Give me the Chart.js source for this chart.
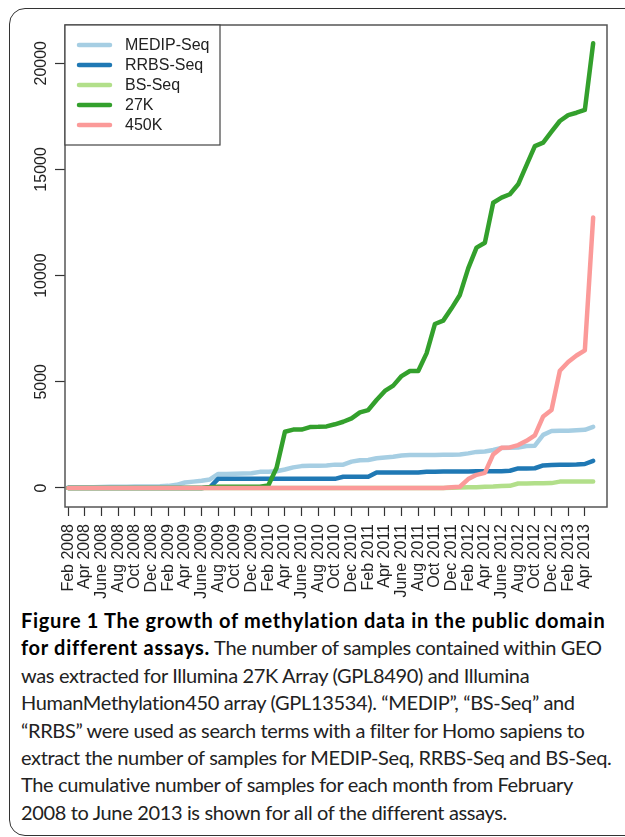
<!DOCTYPE html>
<html>
<head>
<meta charset="utf-8">
<script src="https://cdn.jsdelivr.net/npm/chart.js@4"></script>
<style>
  body { margin: 0; background: #fff; }
  #frame {
    position: absolute; left: 9px; top: 8px; width: 700px; height: 826px;
    border: 1.5px solid #333; border-radius: 16px 0 0 16px;
  }
  #wrap { position: absolute; left: 0; top: 0; width: 625px; height: 600px; }
  #caption {
    position: absolute; left: 21px; top: 607px; white-space: nowrap;
    font-family: Lato, "Open Sans", sans-serif; font-size: 20px; line-height: 27.4px; color: #222;
    letter-spacing: -0.35px;
  }
  #caption b { color: #000; letter-spacing: 0.7px; }
</style>
</head>
<body>
<div id="frame"></div>
<div id="wrap"><canvas id="myChart" width="625" height="600"></canvas></div>
<div id="caption"><b>Figure 1 The growth of methylation data in the public domain<br>for different assays.</b> The number of samples contained within GEO<br>was extracted for Illumina 27K Array (GPL8490) and Illumina<br>HumanMethylation450 array (GPL13534). “MEDIP”, “BS-Seq” and<br>“RRBS” were used as search terms with a filter for Homo sapiens to<br>extract the number of samples for MEDIP-Seq, RRBS-Seq and BS-Seq.<br>The cumulative number of samples for each month from February<br>2008 to June 2013 is shown for all of the different assays.</div>
<script>
// monthly labels, Feb 2008 .. May 2013
const monthNames = ['Jan', 'Feb', 'Mar', 'Apr', 'May', 'June', 'July', 'Aug', 'Sep', 'Oct', 'Nov', 'Dec'];
const months = [];
for (let i = 0; i < 64; i++) {
  months.push(monthNames[(i + 1) % 12] + ' ' + (2008 + Math.floor((i + 1) / 12)));
}
const xTicks = [0, 2, 4, 6, 8, 10, 12, 14, 16, 18, 20, 22, 24, 26, 28, 30, 32, 34, 36, 38, 40, 42, 44, 46, 48, 50, 52, 54, 56, 58, 60, 62];
const yTicks = [0, 5000, 10000, 15000, 20000];

const medip = [30, 30, 40, 40, 50, 60, 60, 60, 70, 70, 70, 80, 100, 150, 260, 300, 340, 400, 660, 660, 670, 680, 690, 760,
  770, 790, 870, 970, 1030, 1050, 1050, 1060, 1100, 1100, 1240, 1310, 1320, 1400, 1440, 1470, 1530, 1550, 1550, 1550,
  1550, 1560, 1570, 1580, 1630, 1700, 1720, 1790, 1880, 1900, 1910, 1980, 1990, 2500, 2680, 2700, 2700, 2720, 2740, 2880];
const rrbs = [0, 0, 0, 0, 0, 0, 0, 0, 0, 0, 0, 0, 0, 0, 0, 0, 0, 30, 440, 440, 440, 440, 440, 440,
  440, 440, 440, 430, 430, 430, 430, 430, 430, 530, 530, 530, 530, 730, 730, 730, 730, 730, 730, 770,
  770, 780, 780, 780, 780, 790, 790, 790, 790, 810, 920, 920, 930, 1060, 1080, 1090, 1100, 1110, 1130, 1280];
const bsSeq = [0, 0, 0, 0, 0, 0, 0, 0, 0, 0, 0, 0, 0, 0, 0, 0, 0, 0, 0, 0, 0, 0, 0, 0,
  0, 0, 0, 0, 0, 0, 0, 0, 0, 0, 0, 0, 0, 0, 0, 0, 0, 0, 0, 0,
  0, 0, 10, 20, 30, 40, 60, 70, 90, 100, 210, 215, 220, 225, 230, 300, 300, 305, 305, 305];
const k27 = [0, 0, 0, 0, 0, 0, 0, 0, 0, 0, 0, 0, 0, 0, 0, 0, 0, 30, 60, 60, 60, 60, 60, 60,
  120, 950, 2650, 2750, 2750, 2870, 2880, 2900, 3000, 3120, 3280, 3560, 3670, 4140, 4570, 4820, 5270, 5510, 5510, 6340,
  7720, 7880, 8460, 9090, 10340, 11320, 11550, 13430, 13670, 13830, 14300, 15200, 16100, 16260, 16780, 17280, 17560, 17670, 17800, 20940];
const k450 = [0, 0, 0, 0, 0, 0, 0, 0, 0, 0, 0, 0, 0, 0, 0, 0, 0, 0, 0, 0, 0, 0, 0, 0,
  0, 0, 0, 0, 0, 0, 0, 0, 0, 0, 0, 0, 0, 0, 0, 0, 0, 0, 0, 0,
  0, 0, 30, 60, 420, 620, 710, 1580, 1900, 1910, 2020, 2220, 2480, 3370, 3670, 5520, 5930, 6240, 6480, 12740];

const seriesNames = ['MEDIP-Seq', 'RRBS-Seq', 'BS-Seq', '27K', '450K'];
const seriesColors = ['#a6cee3', '#1f78b4', '#b2df8a', '#33a02c', '#fb9a99'];
const seriesData = [medip, rrbs, bsSeq, k27, k450];

const FONT = '"Liberation Sans", Arial, sans-serif';

// box, rotated y labels and legend the way base R draws them
const rStyle = {
  id: 'rStyle',
  afterDraw(chart) {
    const { ctx, chartArea: a, scales } = chart;
    ctx.save();
    ctx.strokeStyle = '#555';
    ctx.lineWidth = 1.5;
    ctx.strokeRect(a.left, a.top, a.right - a.left, a.bottom - a.top);

    ctx.fillStyle = '#222';
    ctx.font = '16px ' + FONT;
    ctx.textAlign = 'center';
    ctx.textBaseline = 'middle';
    yTicks.forEach(v => {
      const y = scales.y.getPixelForValue(v);
      ctx.save();
      ctx.translate(a.left - 23, y);
      ctx.rotate(-Math.PI / 2);
      ctx.fillText(String(v), 0, 0);
      ctx.restore();
    });

    // legend
    const lx = a.left, ly = a.top;
    ctx.fillStyle = '#fff';
    ctx.fillRect(lx, ly, 155, 120);
    ctx.strokeStyle = '#444';
    ctx.lineWidth = 1.2;
    ctx.strokeRect(lx, ly, 155, 120);
    ctx.textAlign = 'left';
    seriesNames.forEach((name, i) => {
      const y = ly + 20 + i * 20;
      ctx.strokeStyle = seriesColors[i];
      ctx.lineWidth = 4.5;
      ctx.lineCap = 'round';
      ctx.beginPath();
      ctx.moveTo(lx + 14, y);
      ctx.lineTo(lx + 45, y);
      ctx.stroke();
      ctx.fillStyle = '#222';
      ctx.fillText(name, lx + 60, y + 1);
    });
    ctx.restore();
  }
};

const ctx = document.getElementById('myChart').getContext('2d');
const chart = new Chart(ctx, {
  type: 'line',
  data: {
    datasets: seriesData.map((vals, i) => ({
      label: seriesNames[i],
      data: vals.map((v, j) => ({ x: j, y: v })),
      borderColor: seriesColors[i],
      borderWidth: 4.5,
      borderCapStyle: 'round',
      borderJoinStyle: 'round',
      pointRadius: 0,
      tension: 0,
      order: 5 - i,
    })),
  },
  options: {
    responsive: false,
    animation: false,
    layout: { padding: { top: 25, right: 18, left: 0, bottom: 0 } },
    plugins: { legend: { display: false }, tooltip: { enabled: false } },
    scales: {
      x: {
        type: 'linear',
        min: -0.4,
        max: 64.66,
        afterBuildTicks: (scale) => { scale.ticks = xTicks.map(v => ({ value: v })); },
        afterFit: (scale) => { scale.height = 93; },
        grid: { drawOnChartArea: false, drawTicks: true, tickLength: 9, tickColor: '#333', tickWidth: 1.2 },
        border: { display: false },
        ticks: {
          autoSkip: false,
          minRotation: 90,
          maxRotation: 90,
          padding: 8,
          color: '#222',
          font: { family: FONT, size: 16 },
          callback: (v) => months[v],
        },
      },
      y: {
        type: 'linear',
        min: -895,
        max: 21800,
        afterBuildTicks: (scale) => { scale.ticks = yTicks.map(v => ({ value: v })); },
        afterFit: (scale) => { scale.width = 65; },
        grid: { drawOnChartArea: false, drawTicks: true, tickLength: 10, tickColor: '#333', tickWidth: 1.2 },
        border: { display: false },
        ticks: { display: false },
      },
    },
  },
  plugins: [rStyle],
});
</script>
</body>
</html>
